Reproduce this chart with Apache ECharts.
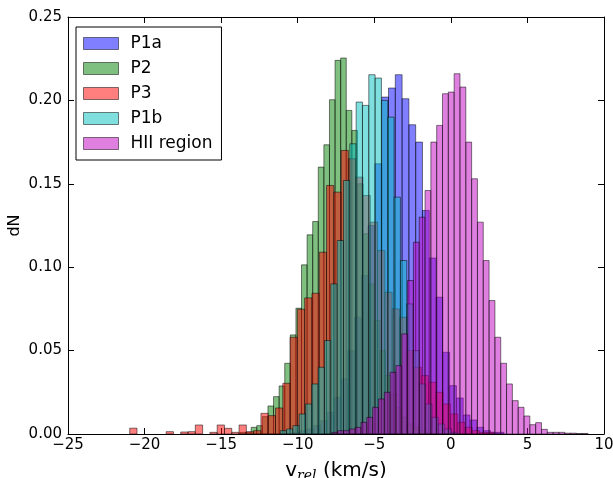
<!DOCTYPE html>
<html>
<head>
<meta charset="utf-8">
<script src="https://cdn.jsdelivr.net/npm/echarts@6/dist/echarts.min.js"></script>
<style>html,body{margin:0;padding:0;background:#fff}#main{width:613px;height:478px}</style>
</head>
<body>
<div id="main"></div>
<script>
// histogram bins: left edge of first bin, bin width (km/s), bar heights (dN)
var p1aStart = -10.28, p1aWidth = 0.4435;
var p1aHeights = [0.001, 0.002, 0.003, 0.005, 0.008, 0.013, 0.022, 0.033, 0.05, 0.07, 0.095, 0.125, 0.162,
	0.202, 0.2074, 0.2154, 0.201, 0.1854, 0.175, 0.134, 0.1055, 0.082, 0.049, 0.029, 0.0216, 0.0114, 0.0084,
	0.004, 0.002, 0.001, 0.001];

var p2Start = -13.769, p2Width = 0.3652;
var p2Heights = [0.001, 0.001, 0.004, 0.005, 0.0104, 0.0168, 0.0224, 0.0288, 0.0424, 0.0594, 0.0754, 0.1014,
	0.1194, 0.1274, 0.160, 0.1734, 0.2004, 0.224, 0.2254, 0.194, 0.182, 0.15, 0.12, 0.09, 0.068, 0.05, 0.035,
	0.024, 0.016, 0.01, 0.006, 0.004, 0.002, 0.001];

var p3Start = -20.97, p3Width = 0.476;
var p3Heights = [0.0035, 0, 0, 0, 0, 0.0014, 0, 0.0012, 0.0014, 0.0054, 0, 0.001, 0.0054, 0.0034, 0.001, 0.0054,
	0.0014, 0.002, 0.0124, 0.011, 0.0156, 0.0304, 0.058, 0.0748, 0.0816, 0.0844, 0.109, 0.149, 0.145, 0.170,
	0.165, 0.154, 0.143, 0.127, 0.11, 0.085, 0.075, 0.07, 0.05, 0.04, 0.035, 0.031, 0.025, 0.018, 0.012, 0.007,
	0.004, 0.002, 0.001, 0.001];

var p1bStart = -11.141, p1bWidth = 0.413;
var p1bHeights = [0.002, 0.003, 0.005, 0.012, 0.018, 0.03, 0.04, 0.056, 0.09, 0.116, 0.152, 0.174, 0.199, 0.197,
	0.2154, 0.2134, 0.20, 0.19, 0.142, 0.104, 0.078, 0.05, 0.03, 0.018, 0.01, 0.006, 0.003, 0.001];

var hiiStart = -7.769, hiiWidth = 0.3802;
var hiiHeights = [0.001, 0.002, 0.002, 0.003, 0.004, 0.007, 0.01, 0.016, 0.021, 0.025, 0.037, 0.041, 0.06, 0.092,
	0.115, 0.13, 0.146, 0.175, 0.185, 0.204, 0.205, 0.216, 0.208, 0.175, 0.153, 0.127, 0.104, 0.080, 0.058,
	0.0424, 0.030, 0.020, 0.016, 0.0108, 0.0056, 0.0068, 0.0028, 0.001, 0.001, 0.001, 0.0005, 0.0005, 0.0003, 0.0003];

var names = ['P1a', 'P2', 'P3', 'P1b', 'HII region'];
var colors = ['rgba(0,0,255,0.5)', 'rgba(0,128,0,0.5)', 'rgba(255,0,0,0.5)', 'rgba(0,191,191,0.5)', 'rgba(191,0,191,0.5)'];

var FONT = 'DejaVu Sans';

function toBins(start, width, heights){
	var out = [];
	for (var i = 0; i < heights.length; i++) {
		out.push([start + i * width, start + (i + 1) * width, heights[i]]);
	}
	return out;
}

function renderBar(params, api){
	var h = api.value(2);
	if (!h) return;
	var a = api.coord([api.value(0), h]);
	var b = api.coord([api.value(1), 0]);
	return {
		type: 'rect',
		shape: {x: a[0], y: a[1], width: b[0] - a[0], height: b[1] - a[1]},
		style: api.style({stroke: 'rgba(0,0,0,0.5)', lineWidth: 1})
	};
}

var allBins = [
	toBins(p1aStart, p1aWidth, p1aHeights),
	toBins(p2Start, p2Width, p2Heights),
	toBins(p3Start, p3Width, p3Heights),
	toBins(p1bStart, p1bWidth, p1bHeights),
	toBins(hiiStart, hiiWidth, hiiHeights)
];

var series = [];
for (var i = 0; i < names.length; i++) {
	series.push({
		name: names[i],
		type: 'custom',
		renderItem: renderBar,
		itemStyle: {color: colors[i]},
		encode: {x: [0, 1], y: 2},
		data: allBins[i]
	});
}

function xLabel(v){ return String(v).replace('-', '\u2212'); }

var option = {
	animation: false,
	grid: {left: 68, right: 9, top: 17, bottom: 44, outerBoundsMode: 'none', containLabel: false},
	legend: {
		data: names,
		orient: 'vertical',
		left: 76, top: 27,
		icon: 'rect',
		itemWidth: 35, itemHeight: 12, itemGap: 8,
		padding: [8, 9, 8, 7],
		backgroundColor: '#fff',
		borderColor: '#000', borderWidth: 1,
		textStyle: {fontFamily: FONT, fontSize: 17, color: '#000', padding: [0, 0, 0, 7], lineHeight: 17},
		itemStyle: {borderColor: 'rgba(0,0,0,0.5)', borderWidth: 1}
	},
	xAxis: [{
		type: 'value', min: -25, max: 10, interval: 5,
		axisLine: {onZero: false, lineStyle: {color: '#000', width: 1}},
		axisTick: {inside: true, length: 6, lineStyle: {color: '#000'}},
		axisLabel: {fontFamily: FONT, fontSize: 15, color: '#000', margin: 4, formatter: xLabel},
		splitLine: {show: false},
		name: '{n|v}{s|rel}{n| (km/s)}',
		nameLocation: 'middle', nameGap: 25,
		nameTextStyle: {
			rich: {
				n: {fontFamily: FONT, fontSize: 20, color: '#000'},
				s: {fontFamily: 'DejaVu Serif', fontStyle: 'italic', fontSize: 14, color: '#000', padding: [10, 0, 0, 0]}
			}
		}
	}, {
		type: 'value', min: -25, max: 10, interval: 5, position: 'top',
		axisLine: {onZero: false, lineStyle: {color: '#000', width: 1}},
		axisTick: {inside: true, length: 6, lineStyle: {color: '#000'}},
		axisLabel: {show: false},
		splitLine: {show: false}
	}],
	yAxis: [{
		type: 'value', min: 0, max: 0.25, interval: 0.05, position: 'left',
		axisLine: {show: true, onZero: false, lineStyle: {color: '#000', width: 1}},
		axisTick: {show: true, inside: true, length: 6, lineStyle: {color: '#000'}},
		axisLabel: {fontFamily: FONT, fontSize: 15, color: '#000', margin: 6, formatter: function(v){ return v.toFixed(2); }},
		splitLine: {show: false},
		name: 'dN', nameLocation: 'middle', nameGap: 45, nameMoveOverlap: false,
		nameTextStyle: {fontFamily: FONT, fontSize: 16, color: '#000'}
	}, {
		type: 'value', min: 0, max: 0.25, interval: 0.05, position: 'right',
		axisLine: {show: true, onZero: false, lineStyle: {color: '#000', width: 1}},
		axisTick: {show: true, inside: true, length: 6, lineStyle: {color: '#000'}},
		axisLabel: {show: false},
		splitLine: {show: false}
	}],
	series: series
};

echarts.init(document.getElementById('main')).setOption(option);
</script>
</body>
</html>
